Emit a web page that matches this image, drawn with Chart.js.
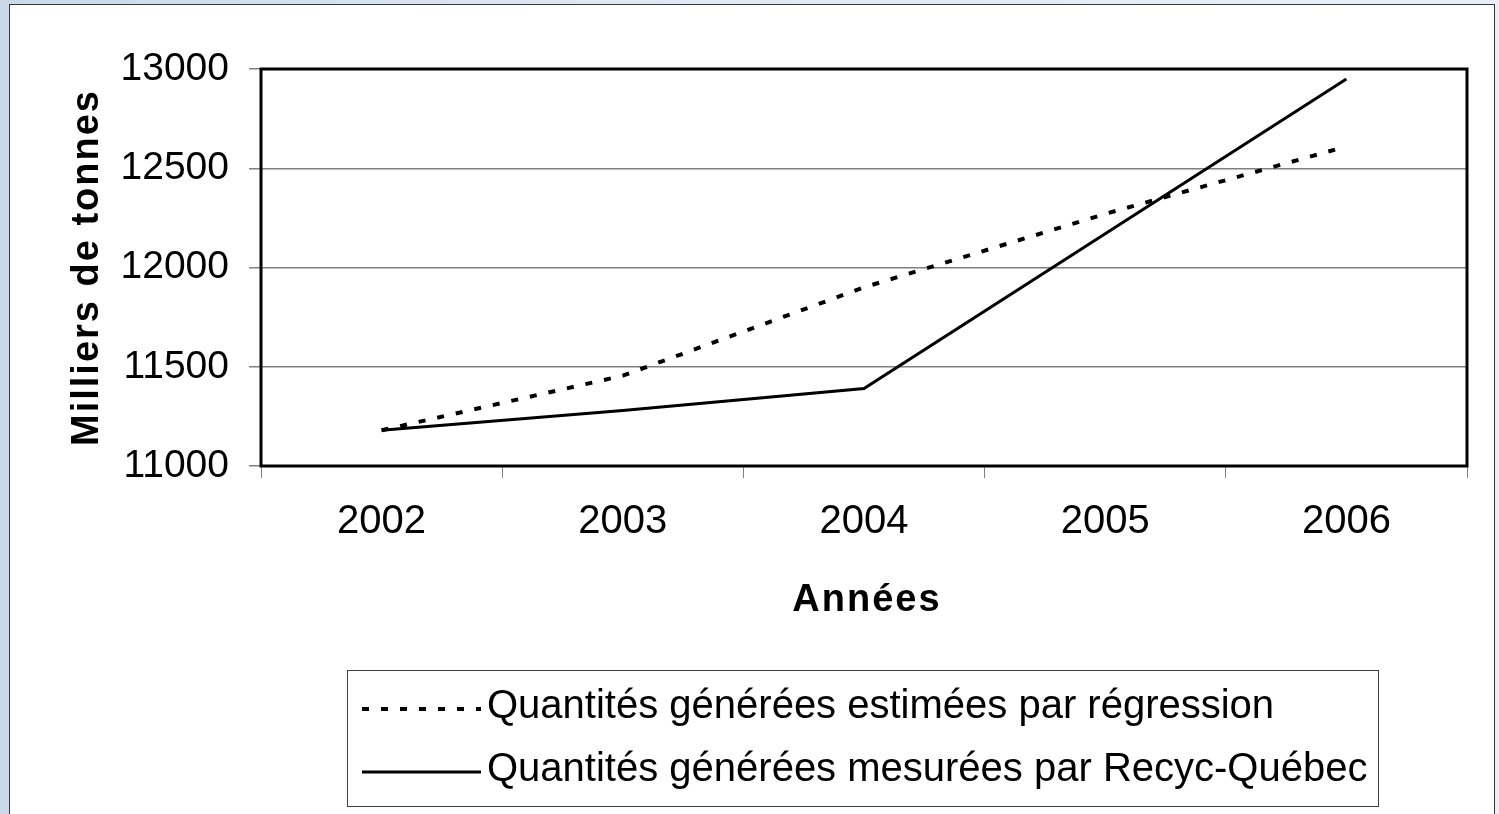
<!DOCTYPE html>
<html>
<head>
<meta charset="utf-8">
<script src="https://cdn.jsdelivr.net/npm/chart.js@4"></script>
<style>
  html, body { margin: 0; padding: 0; }
  body {
    width: 1499px; height: 814px; overflow: hidden;
    background: linear-gradient(to right, #c9d9e8, #dfe8f2 40%, #e9eff7);
  }
  #frame {
    position: absolute; left: 9px; top: 4px;
    width: 1484px; height: 830px;
    background: #fff; border: 1px solid #3a3a3a;
  }
  canvas { display: block; }
</style>
</head>
<body>
<div id="frame"><canvas id="chart" width="1484" height="809"></canvas></div>
<script>
// data
const years = ['2002', '2003', '2004', '2005', '2006'];
const regression = [11180, 11455, 11900, 12270, 12610];
const measured = [11180, 11280, 11390, 12170, 12950];
const yTicks = [11000, 11500, 12000, 12500, 13000];
const seriesNames = [
  'Quantités générées estimées par régression',
  'Quantités générées mesurées par Recyc-Québec'
];
const yTitle = 'Milliers de tonnes';
const xTitle = 'Années';

const family = '"Liberation Sans", Arial, Helvetica, sans-serif';

// black box around the plot area
const framePlugin = {
  id: 'plotFrame',
  beforeDatasetsDraw(chart) {
    const { ctx, chartArea: a } = chart;
    ctx.save();
    ctx.strokeStyle = '#000';
    ctx.lineWidth = 3;
    ctx.strokeRect(a.left, a.top, a.right - a.left, a.bottom - a.top);
    ctx.restore();
  }
};

// axis titles (slightly letter spaced) and the boxed legend
const textPlugin = {
  id: 'texts',
  afterDraw(chart) {
    const { ctx, chartArea: a } = chart;
    ctx.save();
    ctx.fillStyle = '#000';
    ctx.font = 'bold 38px ' + family;
    ctx.letterSpacing = '2px';
    ctx.textAlign = 'center';
    ctx.textBaseline = 'alphabetic';

    // x title
    ctx.fillText(xTitle, (a.left + a.right) / 2 + 3, 606);

    // y title
    ctx.save();
    ctx.translate(88, (a.top + a.bottom) / 2);
    ctx.rotate(-Math.PI / 2);
    ctx.fillText(yTitle, 0, 0);
    ctx.restore();

    // legend
    ctx.letterSpacing = '0px';
    const box = { x: 337.5, y: 665.5, w: 1031, h: 136 };
    ctx.strokeStyle = '#404040';
    ctx.lineWidth = 1;
    ctx.strokeRect(box.x, box.y, box.w, box.h);

    ctx.font = '40px ' + family;
    ctx.textAlign = 'left';
    const rows = [704, 767];
    chart.data.datasets.forEach((ds, i) => {
      const y = rows[i];
      ctx.save();
      ctx.strokeStyle = ds.borderColor;
      ctx.lineWidth = ds.borderWidth;
      ctx.setLineDash(ds.borderDash || []);
      ctx.beginPath();
      ctx.moveTo(352, y);
      ctx.lineTo(471, y);
      ctx.stroke();
      ctx.restore();
      ctx.fillText(ds.label, 477, y + 9);
    });
    ctx.restore();
  }
};

const chart = new Chart(document.getElementById('chart'), {
  type: 'line',
  data: {
    labels: years,
    datasets: [
      {
        label: seriesNames[0],
        data: regression,
        borderColor: '#000',
        borderWidth: 4,
        borderDash: [7, 12],
        borderCapStyle: 'butt',
        pointRadius: 0,
        tension: 0,
        fill: false
      },
      {
        label: seriesNames[1],
        data: measured,
        borderColor: '#000',
        borderWidth: 3,
        pointRadius: 0,
        tension: 0,
        fill: false
      }
    ]
  },
  options: {
    responsive: false,
    animation: false,
    layout: { padding: { top: 64, right: 27, bottom: 0, left: 0 } },
    plugins: {
      legend: { display: false },
      tooltip: { enabled: false }
    },
    scales: {
      x: {
        offset: true,
        grid: {
          offset: true,
          drawOnChartArea: false,
          tickLength: 12,
          color: '#808080',
          lineWidth: 1
        },
        border: { display: false },
        ticks: {
          color: '#000',
          padding: 20,
          font: { family: family, size: 40 }
        },
        afterFit(scale) { scale.height = 348; }
      },
      y: {
        min: yTicks[0],
        max: yTicks[yTicks.length - 1],
        afterBuildTicks(scale) {
          scale.ticks = yTicks.map(v => ({ value: v }));
        },
        grid: {
          tickLength: 12,
          color: '#808080',
          lineWidth: 1.5
        },
        border: { display: false },
        ticks: {
          color: '#000',
          padding: 20,
          font: { family: family, size: 39 },
          callback: v => String(v)
        },
        afterFit(scale) { scale.width = 251; }
      }
    }
  },
  plugins: [framePlugin, textPlugin]
});
</script>
</body>
</html>
